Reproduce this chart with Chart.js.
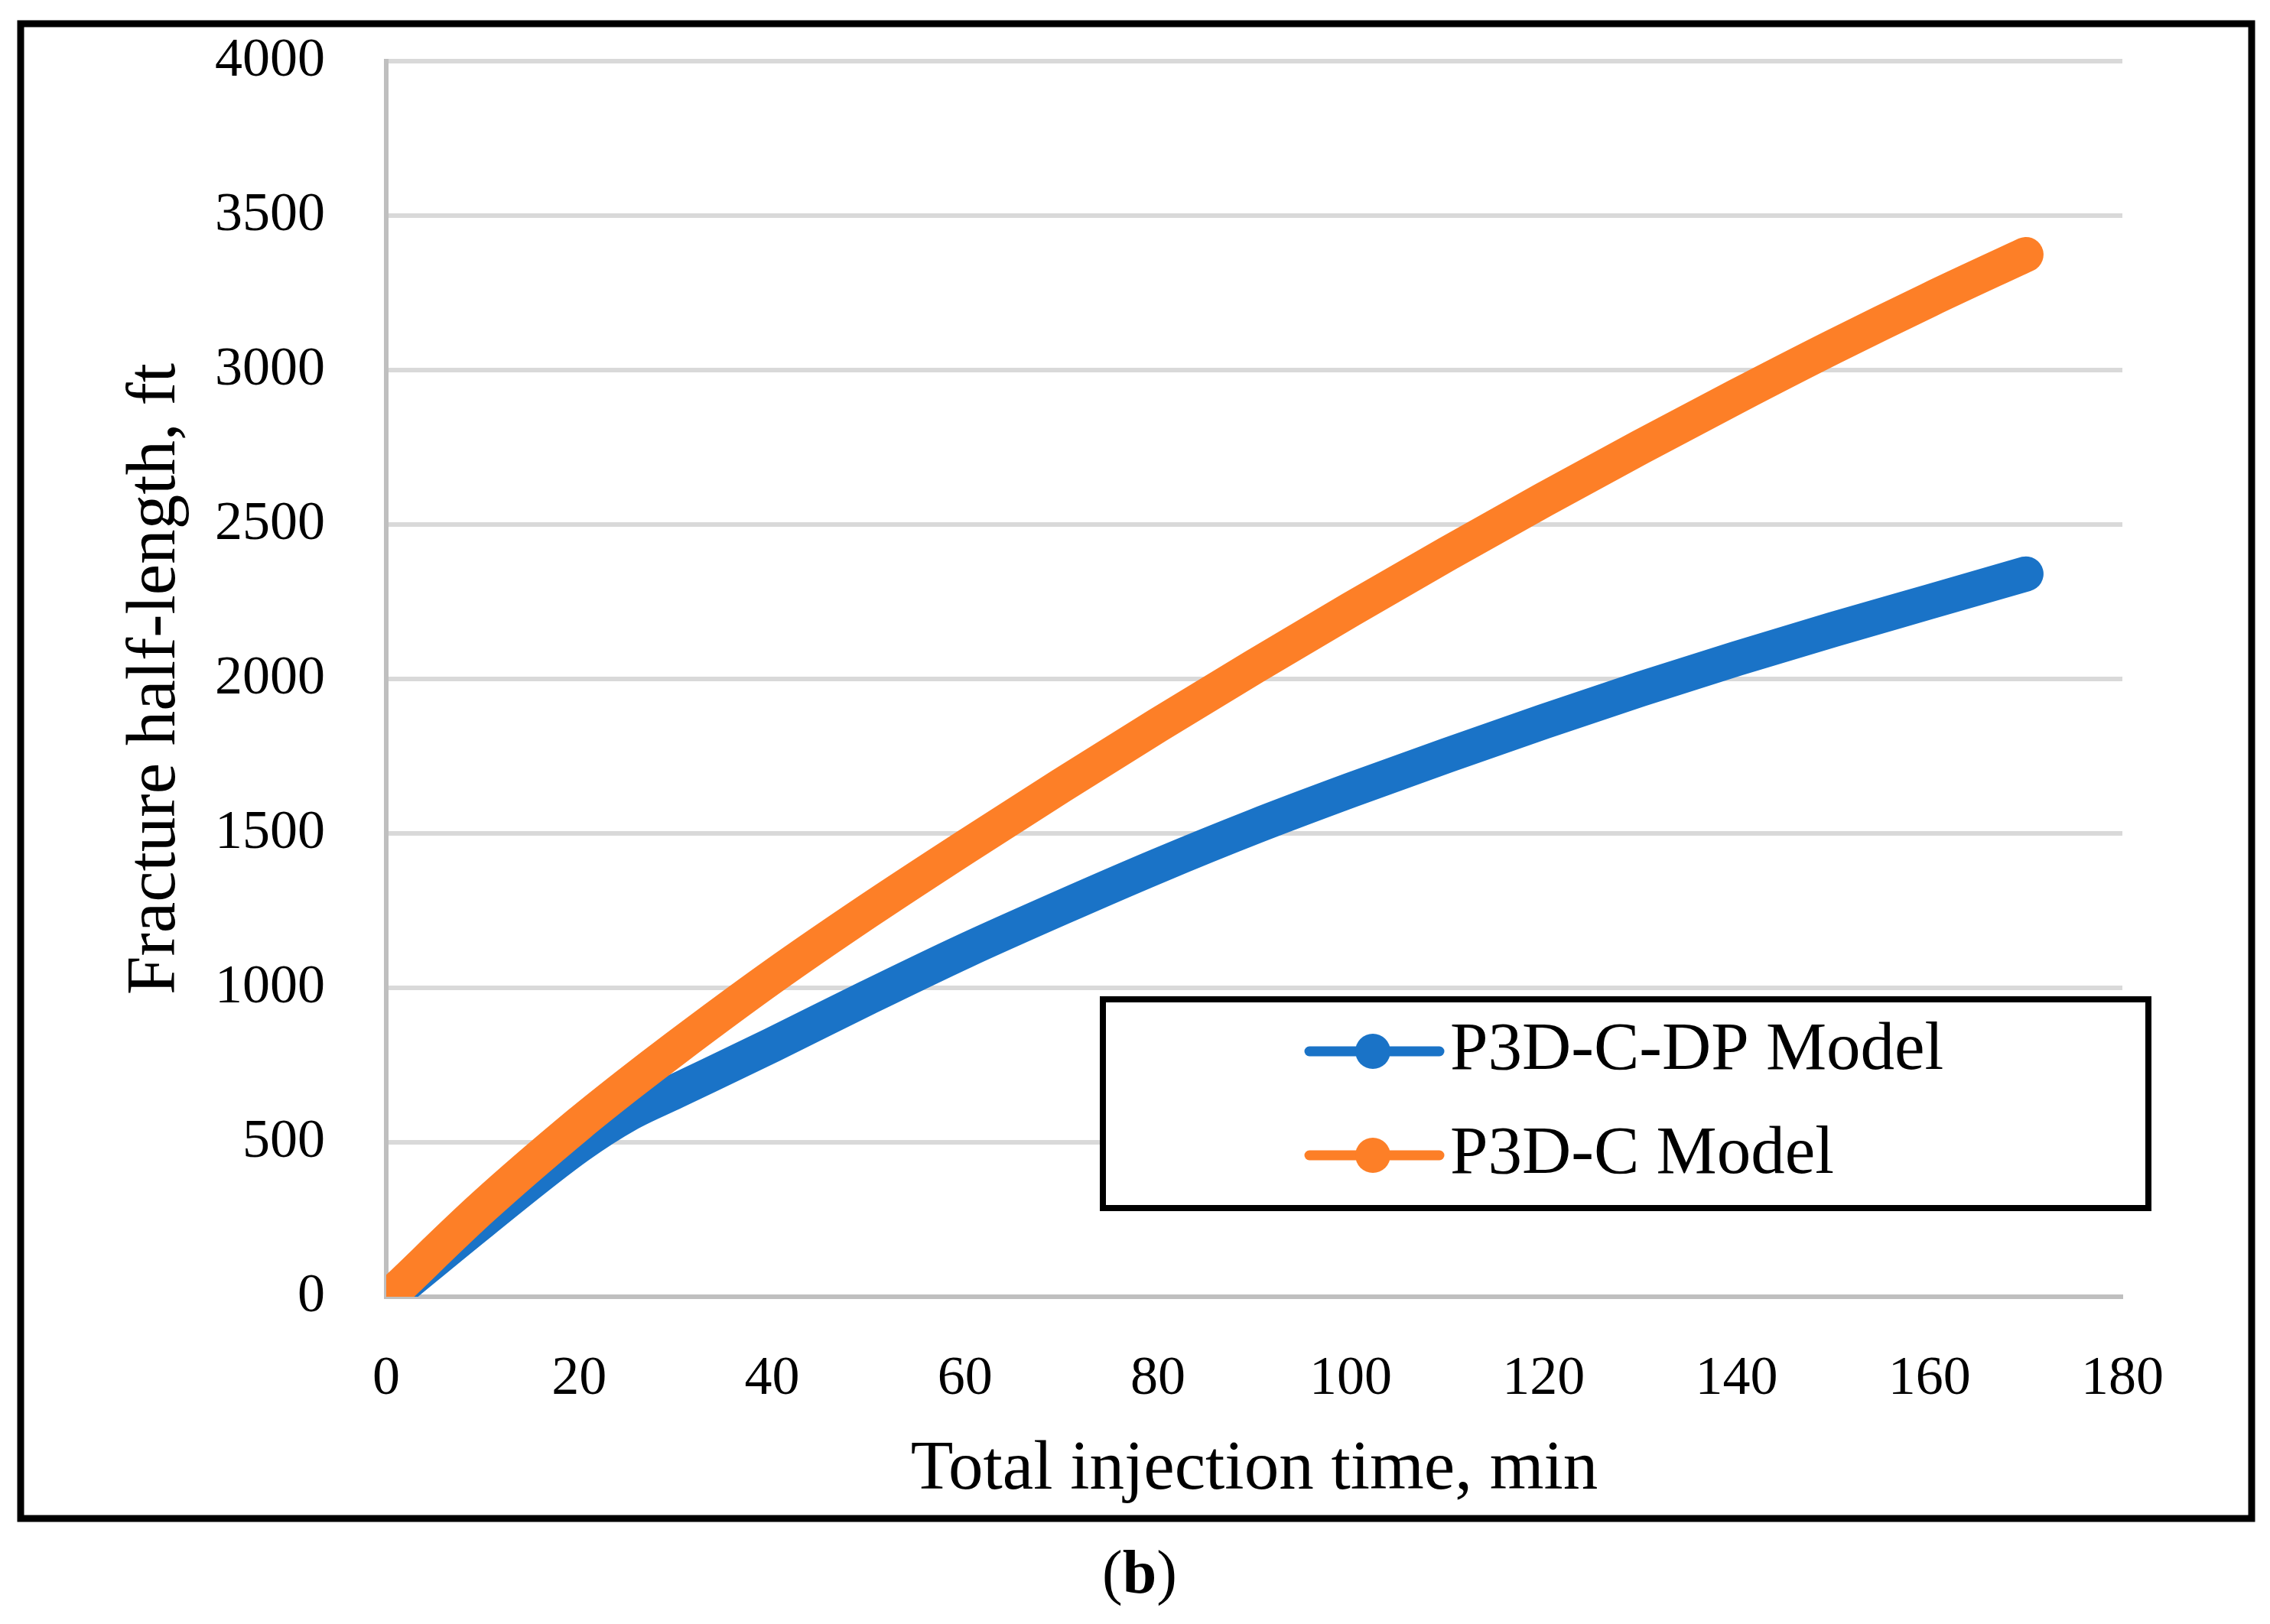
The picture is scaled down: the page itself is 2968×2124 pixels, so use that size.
<!DOCTYPE html>
<html>
<head>
<meta charset="utf-8">
<script src="https://cdn.jsdelivr.net/npm/chart.js@4.4.1/dist/chart.umd.min.js"></script>
<style>
html, body { margin: 0; padding: 0; background: #ffffff; }
#wrap { width: 2968px; height: 2124px; }
</style>
</head>
<body>
<div id="wrap"><canvas id="chart" width="2968" height="2124"></canvas></div>
<script>
// values (injection time in min, half-length in ft)
var times    = [1, 10, 20, 25, 30, 40, 50, 60, 70, 80, 90, 100, 110, 120, 130, 140, 150, 160, 170];
var dpModel  = [15, 245, 490, 590, 665, 815, 970, 1120, 1260, 1395, 1522, 1640, 1753, 1862, 1967, 2066, 2160, 2250, 2340];
var cModel   = [22, 290, 560, 685, 805, 1035, 1250, 1455, 1655, 1850, 2040, 2225, 2405, 2580, 2750, 2915, 3075, 3228, 3374];
var seriesNames = ["P3D-C-DP Model", "P3D-C Model"];
var seriesColors = ["#1a73c7", "#fd7f27"];
var xTickValues = [0, 20, 40, 60, 80, 100, 120, 140, 160, 180];
var yTickValues = [0, 500, 1000, 1500, 2000, 2500, 3000, 3500, 4000];
var xTitle = "Total injection time, min";
var yTitle = "Fracture half-length, ft";
var caption = ["(", "b", ")"];

var serif = "'Liberation Serif', 'Times New Roman', serif";

function toPoints(xs, ys) {
    return xs.map((x, i) => ({ x: x, y: ys[i] }));
}

// outer frame, legend box and the (b) caption
const decorations = {
    id: "decorations",
    afterDatasetsDraw(chart) {
        const ctx = chart.ctx;
        ctx.save();

        // legend
        ctx.fillStyle = "#ffffff";
        ctx.fillRect(1442, 1307, 1367, 273);
        ctx.lineWidth = 8;
        ctx.strokeStyle = "#000000";
        ctx.strokeRect(1442, 1307, 1367, 273);

        const rows = [1375, 1511];
        chart.data.datasets.forEach((ds, i) => {
            const y = rows[i];
            ctx.strokeStyle = ds.borderColor;
            ctx.lineWidth = 13;
            ctx.lineCap = "round";
            ctx.beginPath();
            ctx.moveTo(1712, y);
            ctx.lineTo(1882, y);
            ctx.stroke();
            ctx.fillStyle = ds.borderColor;
            ctx.beginPath();
            ctx.arc(1795, y, 23, 0, Math.PI * 2);
            ctx.fill();
            ctx.fillStyle = "#000000";
            ctx.font = "89px " + serif;
            ctx.textAlign = "left";
            ctx.textBaseline = "alphabetic";
            ctx.fillText(ds.label, 1896, y + 23);
        });

        // frame
        ctx.lineWidth = 9;
        ctx.strokeStyle = "#000000";
        ctx.lineCap = "butt";
        ctx.strokeRect(27, 31, 2917, 1955);

        // caption
        const fonts = ["80px " + serif, "bold 80px " + serif, "80px " + serif];
        let widths = caption.map((s, i) => { ctx.font = fonts[i]; return ctx.measureText(s).width; });
        let total = widths.reduce((a, b) => a + b, 0);
        let cx = 1490 - total / 2;
        ctx.fillStyle = "#000000";
        ctx.textAlign = "left";
        ctx.textBaseline = "alphabetic";
        caption.forEach((s, i) => {
            ctx.font = fonts[i];
            ctx.fillText(s, cx, 2083);
            cx += widths[i];
        });
        ctx.restore();
    }
};

var config = {
    type: "line",
    data: {
        datasets: [{
            label: seriesNames[0],
            data: toPoints(times, dpModel),
            borderColor: seriesColors[0],
            backgroundColor: seriesColors[0],
            borderWidth: 46,
            borderCapStyle: "round",
            borderJoinStyle: "round",
            cubicInterpolationMode: "monotone",
            pointRadius: 0,
            fill: false,
            order: 2
        },
        {
            label: seriesNames[1],
            data: toPoints(times, cModel),
            borderColor: seriesColors[1],
            backgroundColor: seriesColors[1],
            borderWidth: 46,
            borderCapStyle: "round",
            borderJoinStyle: "round",
            cubicInterpolationMode: "monotone",
            pointRadius: 0,
            fill: false,
            order: 1
        }]
    },
    options: {
        responsive: false,
        animation: false,
        devicePixelRatio: 1,
        layout: { padding: { left: 149, right: 193, top: 80, bottom: 146 } },
        plugins: {
            legend: { display: false },
            tooltip: { enabled: false }
        },
        scales: {
            x: {
                type: "linear",
                min: 0,
                max: 180,
                afterBuildTicks: (scale) => { scale.ticks = xTickValues.map(v => ({ value: v })); },
                afterFit: (scale) => { scale.height = 282; },
                ticks: {
                    color: "#000000",
                    font: { family: serif, size: 72 },
                    padding: 65,
                    maxRotation: 0,
                    autoSkip: false,
                    callback: (v) => String(v)
                },
                grid: { display: false, drawTicks: false },
                border: { display: true, color: "#bfbfbf", width: 6 },
                title: {
                    display: true,
                    text: xTitle,
                    color: "#000000",
                    font: { family: serif, size: 91 },
                    padding: 0
                }
            },
            y: {
                type: "linear",
                min: 0,
                max: 4000,
                afterBuildTicks: (scale) => { scale.ticks = yTickValues.map(v => ({ value: v })); },
                afterFit: (scale) => {
                    scale.width = 356;
                    scale.paddingTop = 40;
                    scale.paddingBottom = 40;
                },
                ticks: {
                    color: "#000000",
                    font: { family: serif, size: 72 },
                    padding: 80,
                    autoSkip: false,
                    callback: (v) => String(v)
                },
                grid: { color: "#d9d9d9", lineWidth: 6, drawTicks: false },
                border: { display: true, color: "#bfbfbf", width: 6 },
                title: {
                    display: true,
                    text: yTitle,
                    color: "#000000",
                    font: { family: serif, size: 91 },
                    padding: 0
                }
            }
        }
    },
    plugins: [decorations]
};

var chart = new Chart(document.getElementById("chart"), config);
</script>
</body>
</html>
